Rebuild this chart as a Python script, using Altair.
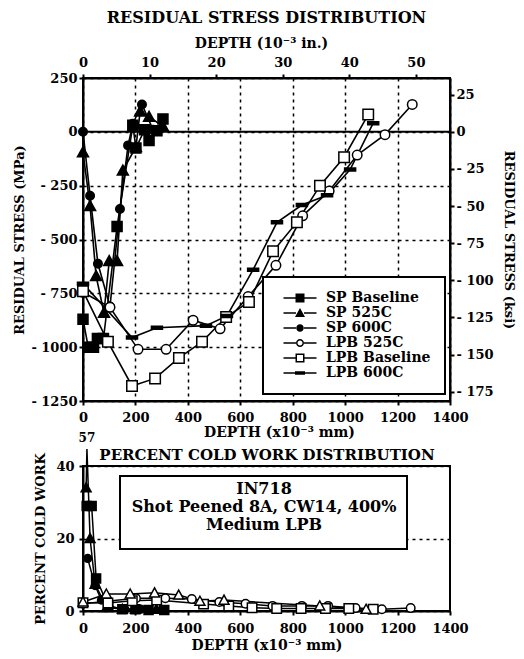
import altair as alt
import pandas as pd

FONT = "DejaVu Serif"

series_names = ["SP Baseline", "SP 525C", "SP 600C", "LPB 525C", "LPB Baseline", "LPB 600C"]

# ---------- Residual stress (depth x10^-3 mm, stress MPa) ----------
rs_sp_base_depth = [0, 20, 40, 55, 78, 130, 190, 202, 235, 252, 282, 305]
rs_sp_base_mpa = [-870, -1000, -1000, -960, -960, -440, 30, -75, 10, -40, 5, 60]

rs_sp525_depth = [0, 27, 50, 80, 100, 130, 152, 202, 218, 252, 305]
rs_sp525_mpa = [-95, -345, -670, -840, -600, -600, -180, -70, 95, 70, 25]

rs_sp600_depth = [0, 27, 57, 103, 141, 172, 190, 225, 267]
rs_sp600_mpa = [0, -297, -613, -811, -358, -63, 38, 127, 10]

rs_lpb525_depth = [0, 103, 210, 317, 420, 523, 630, 736, 838, 939, 1046, 1152, 1256]
rs_lpb525_mpa = [-745, -815, -1010, -1010, -875, -915, -765, -620, -390, -275, -108, -13, 127]

rs_lpb_base_depth = [0, 95, 187, 275, 366, 454, 546, 633, 725, 816, 904, 996, 1088]
rs_lpb_base_mpa = [-740, -975, -1180, -1145, -1050, -975, -860, -790, -555, -420, -250, -118, 80]

rs_lpb600_depth = [0, 187, 282, 469, 549, 649, 740, 835, 931, 1019, 1107]
rs_lpb600_mpa = [-705, -955, -910, -900, -855, -640, -420, -340, -295, -175, 40]

# ---------- Percent cold work (depth x10^-3 mm, %) ----------
cw_sp_base_depth = [14, 33, 50, 96, 150, 200, 250, 310]
cw_sp_base_pct = [29, 29, 9, 1.5, 0.5, 0.5, 0.3, 0.3]

cw_sp525_depth = [12, 15, 27, 46, 90, 150, 200, 280]
cw_sp525_pct = [34, 57, 20, 7.4, 1, 0.5, 0.5, 0.5]

cw_sp600_depth = [18, 46, 70, 100, 160, 220, 300]
cw_sp600_pct = [14.5, 7, 3, 1, 0.5, 0.5, 0.3]

cw_lpb525_depth = [0, 202, 314, 415, 520, 620, 723, 835, 935, 1040, 1140, 1250]
cw_lpb525_pct = [2, 3.5, 3.5, 3.3, 2.5, 2, 1.4, 1.4, 1.4, 0.8, 0.5, 0.8]

cw_lpb_base_depth = [0, 95, 188, 281, 460, 556, 645, 739, 832, 925, 1014, 1107]
cw_lpb_base_pct = [2.3, 2.2, 2.8, 3, 1.9, 1.4, 0.9, 0.7, 0.7, 0.7, 0.7, 0.5]

cw_lpb600_depth = [0, 89, 180, 273, 365, 446, 538, 903, 1080]
cw_lpb600_pct = [2.5, 4.7, 4.7, 5, 4.4, 2.7, 3, 1.4, 0.5]

mm_ticks = [0, 200, 400, 600, 800, 1000, 1200, 1400]
in_ticks = [0, 10, 20, 30, 40, 50]
mpa_ticks = [250, 0, -250, -500, -750, -1000, -1250]
ksi_ticks = [25, 0, -25, -50, -75, -100, -125, -150, -175]
cw_ticks = [0, 20, 40]

top_title = "RESIDUAL STRESS DISTRIBUTION"
bottom_title = "PERCENT COLD WORK DISTRIBUTION"
box_lines = ["IN718", "Shot Peened 8A, CW14, 400%", "Medium LPB"]


def long_df(pairs, valname):
    rows = []
    for name, (d, v) in zip(series_names, pairs):
        for a, b in zip(d, v):
            rows.append({"series": name, "depth": a, valname: b})
    return pd.DataFrame(rows)


rs_df = long_df([(rs_sp_base_depth, rs_sp_base_mpa), (rs_sp525_depth, rs_sp525_mpa),
                 (rs_sp600_depth, rs_sp600_mpa), (rs_lpb525_depth, rs_lpb525_mpa),
                 (rs_lpb_base_depth, rs_lpb_base_mpa), (rs_lpb600_depth, rs_lpb600_mpa)], "stress")
cw_df = long_df([(cw_sp_base_depth, cw_sp_base_pct), (cw_sp525_depth, cw_sp525_pct),
                 (cw_sp600_depth, cw_sp600_pct), (cw_lpb525_depth, cw_lpb525_pct),
                 (cw_lpb_base_depth, cw_lpb_base_pct), (cw_lpb600_depth, cw_lpb600_pct)], "cw")

# marker shapes (unit paths)
SQ = "M-1,-1H1V1H-1Z"
TRI = "M0,-1.1L1.1,0.9H-1.1Z"
CIR = "M-0.85,0A0.85,0.85 0 1,0 0.85,0A0.85,0.85 0 1,0 -0.85,0Z"
OCIR = "M-0.95,0A0.95,0.95 0 1,0 0.95,0A0.95,0.95 0 1,0 -0.95,0Z"
OSQ = "M-1.05,-1.05H1.05V1.05H-1.05Z"
DASH = "M-1.1,-0.3H1.1V0.3H-1.1Z"
plot_shapes = [SQ, TRI, CIR, OCIR, OSQ, DASH]
cw_shapes = [SQ, TRI, CIR, OCIR, OSQ, TRI]

# legend symbols: filled-only paths (line stubs as thin bars, open markers as rings)
LBAR = "M-3.3,-0.16H-0.8V0.16H-3.3ZM0.8,-0.16H3.3V0.16H0.8Z"
legend_shapes = [
    LBAR + "M-0.9,-0.9H0.9V0.9H-0.9Z",
    LBAR + "M0,-1L1,0.8H-1Z",
    LBAR + "M-0.75,0A0.75,0.75 0 1,0 0.75,0A0.75,0.75 0 1,0 -0.75,0Z",
    LBAR + "M-0.8,0A0.8,0.8 0 1,0 0.8,0A0.8,0.8 0 1,0 -0.8,0Z"
           "M-0.5,0A0.5,0.5 0 1,1 0.5,0A0.5,0.5 0 1,1 -0.5,0Z",
    LBAR + "M-0.9,-0.9H0.9V0.9H-0.9ZM-0.6,-0.6V0.6H0.6V-0.6Z",
    "M-3.3,-0.16H3.3V0.16H-3.3ZM-1,-0.35H1V0.35H-1Z",
]
fills = ["black", "black", "black", "white", "white", "black"]
cw_fills = ["black", "black", "black", "white", "white", "white"]

neg_label = "datum.value < 0 ? '- ' + format(-datum.value, 'd') : format(datum.value, 'd')"
grid_style = dict(grid=True, gridDash=[3, 4], gridColor="black", gridWidth=1.5, gridOpacity=1)

TOP_H = 323

# ---------------- top chart ----------------
x_mm = alt.X("depth:Q", scale=alt.Scale(domain=[0, 1400], nice=False, zero=False),
             axis=alt.Axis(values=mm_ticks, title="DEPTH (x10⁻³ mm)", titleFontSize=14, format="d",
                           titleX=196, labelPadding=6, titlePadding=1, **grid_style))
y_mpa = alt.Y("stress:Q", scale=alt.Scale(domain=[-1250, 250], nice=False, zero=False),
              axis=alt.Axis(values=mpa_ticks, title="RESIDUAL STRESS (MPa)", titleFontSize=13,
                            labelExpr=neg_label, **grid_style))

lines = alt.Chart(rs_df).mark_line(color="black", strokeWidth=1.6).encode(
    x=x_mm, y=y_mpa, detail="series:N", order="depth:Q")
points = alt.Chart(rs_df).mark_point(opacity=1, stroke="black", strokeWidth=1.5, size=100).encode(
    x=x_mm, y=y_mpa,
    shape=alt.Shape("series:N", scale=alt.Scale(domain=series_names, range=plot_shapes), legend=None),
    fill=alt.Fill("series:N", scale=alt.Scale(domain=series_names, range=fills), legend=None))
zero = alt.Chart(pd.DataFrame({"z": [0]})).mark_rule(color="black", strokeWidth=2).encode(y=alt.datum(0))

leg_def = alt.Legend(orient="none", legendX=180, legendY=199, title=None, padding=14,
                     strokeColor="black", fillColor="white",
                     labelFont=FONT, labelFontSize=14, labelFontWeight="bold", labelColor="black",
                     symbolSize=100, symbolFillColor="black", symbolStrokeWidth=0,
                     symbolOffset=16, labelOffset=19, rowPadding=1)
leg_layer = alt.Chart(rs_df).transform_filter("false").mark_point(
    opacity=1, filled=True, color="black", size=100).encode(
    x=x_mm, y=y_mpa,
    shape=alt.Shape("series:N", scale=alt.Scale(domain=series_names, range=legend_shapes), legend=leg_def))

main = alt.layer(lines, zero, points, leg_layer).resolve_scale(shape="independent", fill="independent")

sec = alt.Chart(rs_df).transform_calculate(
    inch="datum.depth / 25.4", ksi="datum.stress / 6.895").mark_point(opacity=0).encode(
    x=alt.X("inch:Q", scale=alt.Scale(domain=[0, 1400 / 25.4], nice=False, zero=False),
            axis=alt.Axis(orient="top", values=in_ticks, title="DEPTH (10⁻³ in.)", titleFontSize=14,
                          titleX=178, grid=False, labelPadding=5, titlePadding=6)),
    y=alt.Y("ksi:Q", scale=alt.Scale(domain=[-1250 / 6.895, 250 / 6.895], nice=False, zero=False),
            axis=alt.Axis(orient="right", values=ksi_ticks, title="RESIDUAL STRESS (ksi)",
                          titleFontSize=13, labelExpr=neg_label, grid=False, titlePadding=8)))

top = alt.layer(main, sec).resolve_scale(x="independent", y="independent").properties(
    width=367, height=TOP_H,
    title=alt.Title(top_title, fontSize=16, offset=10))

# ---------------- bottom chart ----------------
x_b = alt.X("depth:Q", scale=alt.Scale(domain=[0, 1400], nice=False, zero=False),
            axis=alt.Axis(values=mm_ticks, title="DEPTH (x10⁻³ mm)", titleFontSize=14, grid=False,
                          format="d", labelPadding=7, titlePadding=3))
y_b = alt.Y("cwp:Q", scale=alt.Scale(domain=[0, 40], nice=False, zero=False),
            axis=alt.Axis(values=cw_ticks, title="PERCENT COLD WORK", titleFontSize=13,
                          format="d", labelPadding=5, titlePadding=8, **grid_style))

cw_base = alt.Chart(cw_df).transform_calculate(cwp="min(datum.cw, 44.7)")
cw_lines = cw_base.mark_line(color="black", strokeWidth=1.5).encode(
    x=x_b, y=y_b, detail="series:N", order="depth:Q")
cw_points = cw_base.transform_filter("datum.cw <= 40").mark_point(
    opacity=1, stroke="black", strokeWidth=1.5, size=81).encode(
    x=x_b, y=y_b,
    shape=alt.Shape("series:N", scale=alt.Scale(domain=series_names, range=cw_shapes), legend=None),
    fill=alt.Fill("series:N", scale=alt.Scale(domain=series_names, range=cw_fills), legend=None))
cw_off = cw_base.transform_filter("datum.cw > 40").mark_text(
    font=FONT, fontSize=12, fontWeight="bold", color="black", align="center", baseline="middle").encode(
    x=x_b, y=alt.value(-28), text=alt.Text("cw:Q", format="d"))

one = pd.DataFrame({"k": [0]})
title_b = alt.Chart(one).mark_text(text=bottom_title, font=FONT, fontSize=15, fontWeight="bold",
                                   color="black", align="center", baseline="middle").encode(
    x=alt.value(184), y=alt.value(-11))
box = alt.Chart(one).mark_rect(fill="white", stroke="black", strokeWidth=2).encode(
    x=alt.value(37), x2=alt.value(324), y=alt.value(10), y2=alt.value(83))
box_texts = [
    alt.Chart(one).mark_text(text=t, font=FONT, fontSize=16, fontWeight="bold", color="black",
                             align="center", baseline="middle").encode(x=alt.value(181), y=alt.value(yy))
    for t, yy in zip(box_lines, [23, 41, 59])
]

bottom = alt.layer(cw_lines, cw_points, cw_off, title_b, box, *box_texts).properties(
    width=367, height=145)

chart = alt.vconcat(top, bottom, spacing=65, bounds="flush").properties(
    padding={"left": 4, "top": 1, "right": 0, "bottom": 0}
).configure(font=FONT).configure_view(stroke="black", strokeWidth=2).configure_axis(
    labelFont=FONT, titleFont=FONT, labelFontSize=13, labelFontWeight="bold",
    titleFontWeight="bold", labelColor="black", titleColor="black",
    domainColor="black", domainWidth=2, tickColor="black", tickWidth=2, tickSize=4,
    labelFlush=False, labelOverlap=False
).configure_title(font=FONT, fontWeight="bold", color="black").configure_legend(strokeWidth=2)

chart.save("out.html", embed_options={"renderer": "svg", "actions": False})
